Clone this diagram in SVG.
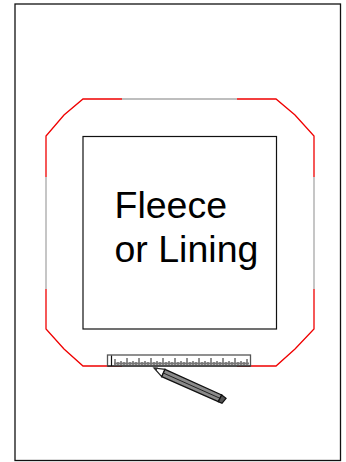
<svg xmlns="http://www.w3.org/2000/svg" width="346" height="462" viewBox="0 0 346 462">
<style>
.r{fill:none;stroke:#f00000;stroke-width:1.300}
.g{fill:none;stroke:#a8a8a8;stroke-width:1.300}
.t{font-family:"Liberation Sans",Arial,sans-serif;font-size:37.500px;fill:#000}
.k{stroke:#222;stroke-width:1;fill:none}
</style>
<rect width="346" height="462" fill="#fff"/>
<rect id="page" x="15" y="4" width="325.500" height="456.500" fill="none" stroke="#111" stroke-width="1.300"/>
<g id="outline">
<path class="r" d="M122 99H83L64 115L46 136V177"/>
<path class="g" d="M46 177V289"/>
<path class="r" d="M46 289V329L64 349L83 366H122"/>
<path class="r" d="M237 366H276L295 349L314 329V289"/>
<path class="g" d="M314 289V177"/>
<path class="r" d="M314 177V136L295 115L276 99H237"/>
<path class="g" d="M122 99H237"/>
</g>
<g id="panel">
<rect x="83" y="136.500" width="193.500" height="192.500" fill="#fff" stroke="#111" stroke-width="1.200"/>
<text class="t" x="114.500" y="218">Fleece</text>
<text class="t" x="114.500" y="262">or Lining</text>
</g>
<g id="ruler">
<rect x="107.500" y="355" width="143" height="11" fill="#fff" stroke="#555" stroke-width="1.300"/>
<path d="M107.500 366H250.500M111.500 355.500V365.500" stroke="#111" stroke-width="1.200"/>
<path class="k" d="M115 365V359M118 365V362M121 365V361M124 365V362M127 365V358M130 365V362M133 365V361M136 365V362M139 365V358M142 365V362M145 365V361M148 365V362M151 365V358M154 365V362M157 365V361M160 365V362M163 365V358M166 365V362M169 365V361M172 365V362M175 365V358M178 365V362M181 365V361M184 365V362M187 365V358M190 365V362M193 365V361M196 365V362M199 365V358M202 365V362M205 365V361M208 365V362M211 365V358M214 365V362M217 365V361M220 365V362M223 365V358M226 365V362M229 365V361M232 365V362M235 365V358M238 365V362M241 365V361M244 365V362M247 365V359"/>
<path d="M114 363.500H249" stroke="#777" stroke-width="2" fill="none"/>
</g>
<g id="pencil">
<path d="M154 368L165 369.300L161.700 376.700Z" fill="#fff" stroke="#222" stroke-width="1.200"/>
<path d="M154 367.500L158 367.500L156.500 370.500Z" fill="#333"/>
<path d="M165 369.300L221.700 395L218.300 401.700L161.700 376.700Z" fill="#8a8a8a" stroke="#111" stroke-width="1.300"/>
<path d="M163.300 373L220 398.300" stroke="#222" stroke-width="1"/>
<path d="M221.700 395L226 398.300L222 403.300L218.300 401.700Z" fill="#555" stroke="#111" stroke-width="1.300"/>
</g>
</svg>
